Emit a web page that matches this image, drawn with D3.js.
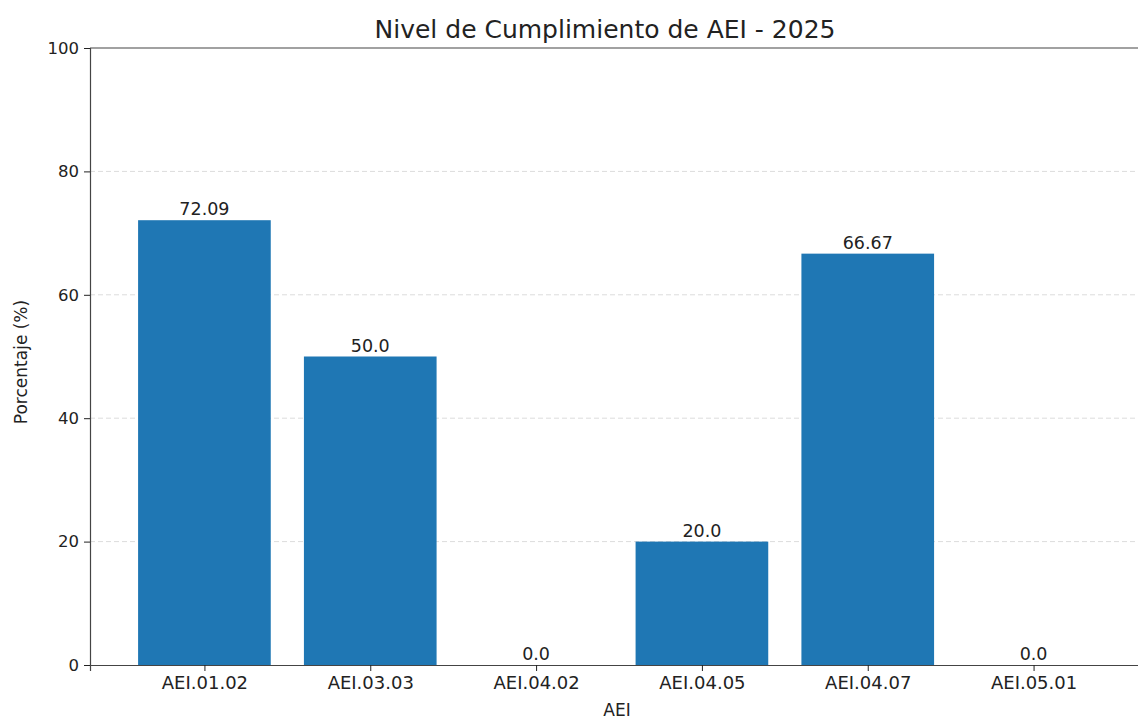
<!DOCTYPE html>
<html lang="es">
<head>
<meta charset="UTF-8">
<title>Nivel de Cumplimiento de AEI - 2025</title>
<script src="https://d3js.org/d3.v7.min.js"></script>
<style>
    body { margin: 0; background: #fff; }
    svg text { font-family: "DejaVu Sans", sans-serif; fill: #222; }
</style>
</head>
<body>
<svg id="chart" width="1138" height="720"></svg>
<script>
    const categories = ["AEI.01.02", "AEI.03.03", "AEI.04.02", "AEI.04.05", "AEI.04.07", "AEI.05.01"];
    const values = [72.09, 50.0, 0.0, 20.0, 66.67, 0.0];
    const labels = ["72.09", "50.0", "0.0", "20.0", "66.67", "0.0"];
    const yTicks = [0, 20, 40, 60, 80, 100];

    const margin = { left: 90, top: 48, bottom: 665 };
    const svg = d3.select("#chart");

    // matplotlib-like x: index positions with 0.8 bar width and 5% margins
    const x = d3.scaleLinear().domain([-0.69, 5.69]).range([margin.left, 1148]);
    const y = d3.scaleLinear().domain([0, 100]).range([margin.bottom, margin.top]);
    const barW = x(0.8) - x(0);

    // grid
    svg.append("g").selectAll("line")
        .data(yTicks.filter(d => d > 0 && d < 100))
        .join("line")
        .attr("x1", margin.left).attr("x2", 1148)
        .attr("y1", d => y(d)).attr("y2", d => y(d))
        .attr("stroke", "#dcdcdc")
        .attr("stroke-width", 1)
        .attr("stroke-dasharray", "5,3");

    // bars
    svg.append("g").selectAll("rect")
        .data(values)
        .join("rect")
        .attr("x", (d, i) => x(i) - barW / 2)
        .attr("width", barW)
        .attr("y", d => y(d))
        .attr("height", d => y(0) - y(d))
        .attr("fill", "#1f77b4");

    // value labels
    svg.append("g").selectAll("text")
        .data(values)
        .join("text")
        .attr("x", (d, i) => x(i))
        .attr("y", d => y(d) - 5)
        .attr("text-anchor", "middle")
        .attr("font-size", 17.5)
        .text((d, i) => labels[i]);

    // axes
    const xAxis = d3.axisBottom(x)
        .tickValues(d3.range(categories.length))
        .tickFormat(i => categories[i])
        .tickSize(6).tickPadding(5);
    svg.append("g")
        .attr("transform", `translate(0,${margin.bottom})`)
        .call(xAxis)
        .attr("font-family", null)
        .call(g => g.select(".domain").attr("stroke", "#444").attr("stroke-width", 1.2))
        .call(g => g.selectAll(".tick line").attr("stroke", "#222"))
        .call(g => g.selectAll(".tick text").attr("font-size", 18));

    const yAxis = d3.axisLeft(y).tickValues(yTicks).tickSize(6).tickPadding(5);
    svg.append("g")
        .attr("transform", `translate(${margin.left},0)`)
        .call(yAxis)
        .attr("font-family", null)
        .call(g => g.select(".domain").attr("stroke", "#444").attr("stroke-width", 1.2))
        .call(g => g.selectAll(".tick line").attr("stroke", "#222"))
        .call(g => g.selectAll(".tick text").attr("font-size", 16.5));

    // top spine
    svg.append("line")
        .attr("x1", margin.left).attr("x2", 1148)
        .attr("y1", margin.top).attr("y2", margin.top)
        .attr("stroke", "#444").attr("stroke-width", 1.2);

    // title and axis labels
    svg.append("text")
        .attr("x", 605).attr("y", 38)
        .attr("text-anchor", "middle")
        .attr("font-size", 25)
        .text("Nivel de Cumplimiento de AEI - 2025");

    svg.append("text")
        .attr("x", 617).attr("y", 716)
        .attr("text-anchor", "middle")
        .attr("font-size", 17)
        .text("AEI");

    svg.append("text")
        .attr("transform", `translate(27,362) rotate(-90)`)
        .attr("text-anchor", "middle")
        .attr("font-size", 17)
        .text("Porcentaje (%)");
</script>
</body>
</html>
